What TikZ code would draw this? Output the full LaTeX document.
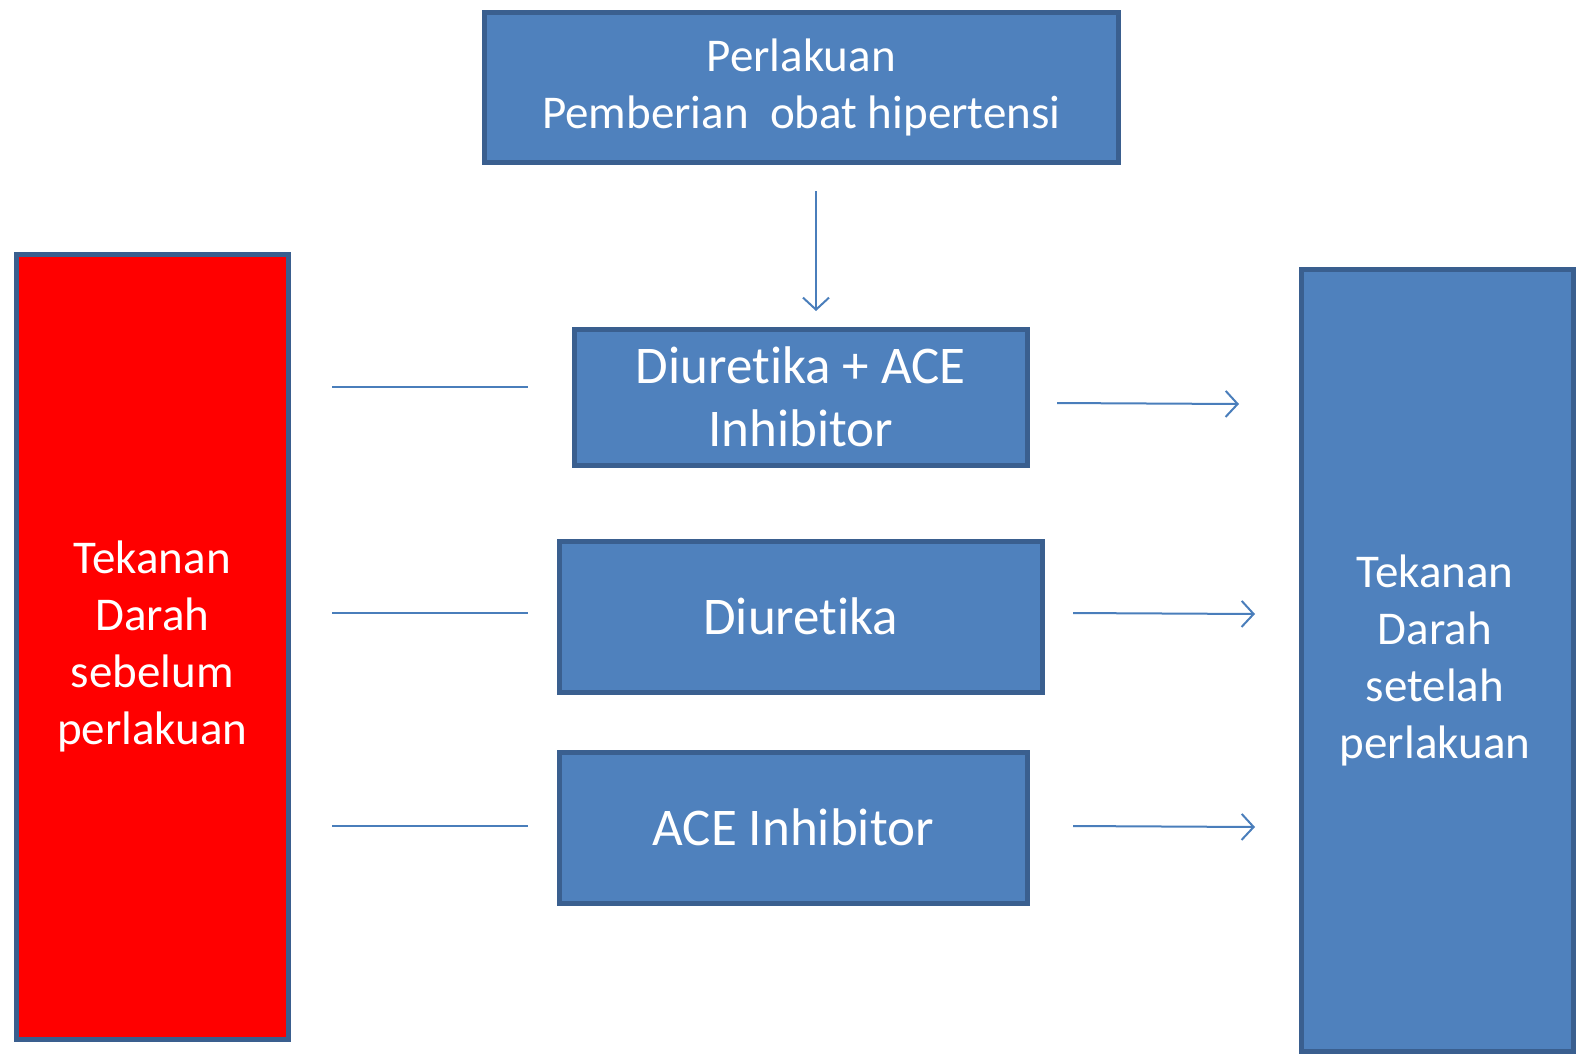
\documentclass[tikz,border=0pt]{standalone}
\usepackage{fontspec}
\setmainfont{Carlito}[Ligatures=NoCommon]
\usetikzlibrary{arrows.meta}
\definecolor{boxfill}{HTML}{4F81BD}
\definecolor{boxedge}{HTML}{3A5F8F}
\definecolor{linecol}{HTML}{4A7EBB}
\begin{document}
\begin{tikzpicture}[x=1pt,y=-1pt,
  box/.style={draw=boxedge,line width=4.5pt,fill=boxfill,text=white,align=center,inner sep=0pt,anchor=north west},
  smalltxt/.style={font=\fontsize{47}{57}\selectfont},
  bigtxt/.style={font=\fontsize{53}{63}\selectfont},
  conn/.style={draw=linecol,line width=2pt},
  arr/.style={conn,-{Straight Barb[length=12pt,width=26pt,line width=2pt]}}]
\useasboundingbox (0,0) rectangle (1579,1053);
\node[box,smalltxt,minimum width=634pt,minimum height=150pt] (top) at (482,10)
  {Perlakuan\\ Pemberian\ \ obat hipertensi};
\node[box,bigtxt,minimum width=453pt,minimum height=136pt] (b1) at (572,327)
  {Diuretika + ACE\\ Inhibitor};
\node[box,bigtxt,minimum width=483pt,minimum height=151pt] (b2) at (557,539)
  {Diuretika};
\node[box,bigtxt,minimum width=468pt,minimum height=151pt] (b3) at (557,750)
  {ACE Inhibitor};
\node[box,smalltxt,fill=red,minimum width=272pt,minimum height=785pt] (left) at (14,252)
  {Tekanan\\ Darah\\ sebelum\\ perlakuan};
\node[box,minimum width=272pt,minimum height=782pt] (right) at (1299,267) {};
\node[text=white,align=center,smalltxt] (rtext) at (1435,660)
  {Tekanan\\ Darah\\ setelah\\ perlakuan};
% connectors
\coordinate (a0s) at (816,191);
\coordinate (a0e) at (816,311);
\draw[arr] (a0s) -- (a0e);
\coordinate (l1s) at (332,387); \coordinate (l1e) at (528,387);
\coordinate (l2s) at (332,613); \coordinate (l2e) at (528,613);
\coordinate (l3s) at (332,826); \coordinate (l3e) at (528,826);
\draw[conn] (l1s) -- (l1e);
\draw[conn] (l2s) -- (l2e);
\draw[conn] (l3s) -- (l3e);
\coordinate (r1s) at (1057,403); \coordinate (r1e) at (1239,404);
\coordinate (r2s) at (1073,613); \coordinate (r2e) at (1255,614);
\coordinate (r3s) at (1073,826); \coordinate (r3e) at (1255,827);
\draw[arr] (r1s) -- (r1e);
\draw[arr] (r2s) -- (r2e);
\draw[arr] (r3s) -- (r3e);
\end{tikzpicture}
\end{document}
